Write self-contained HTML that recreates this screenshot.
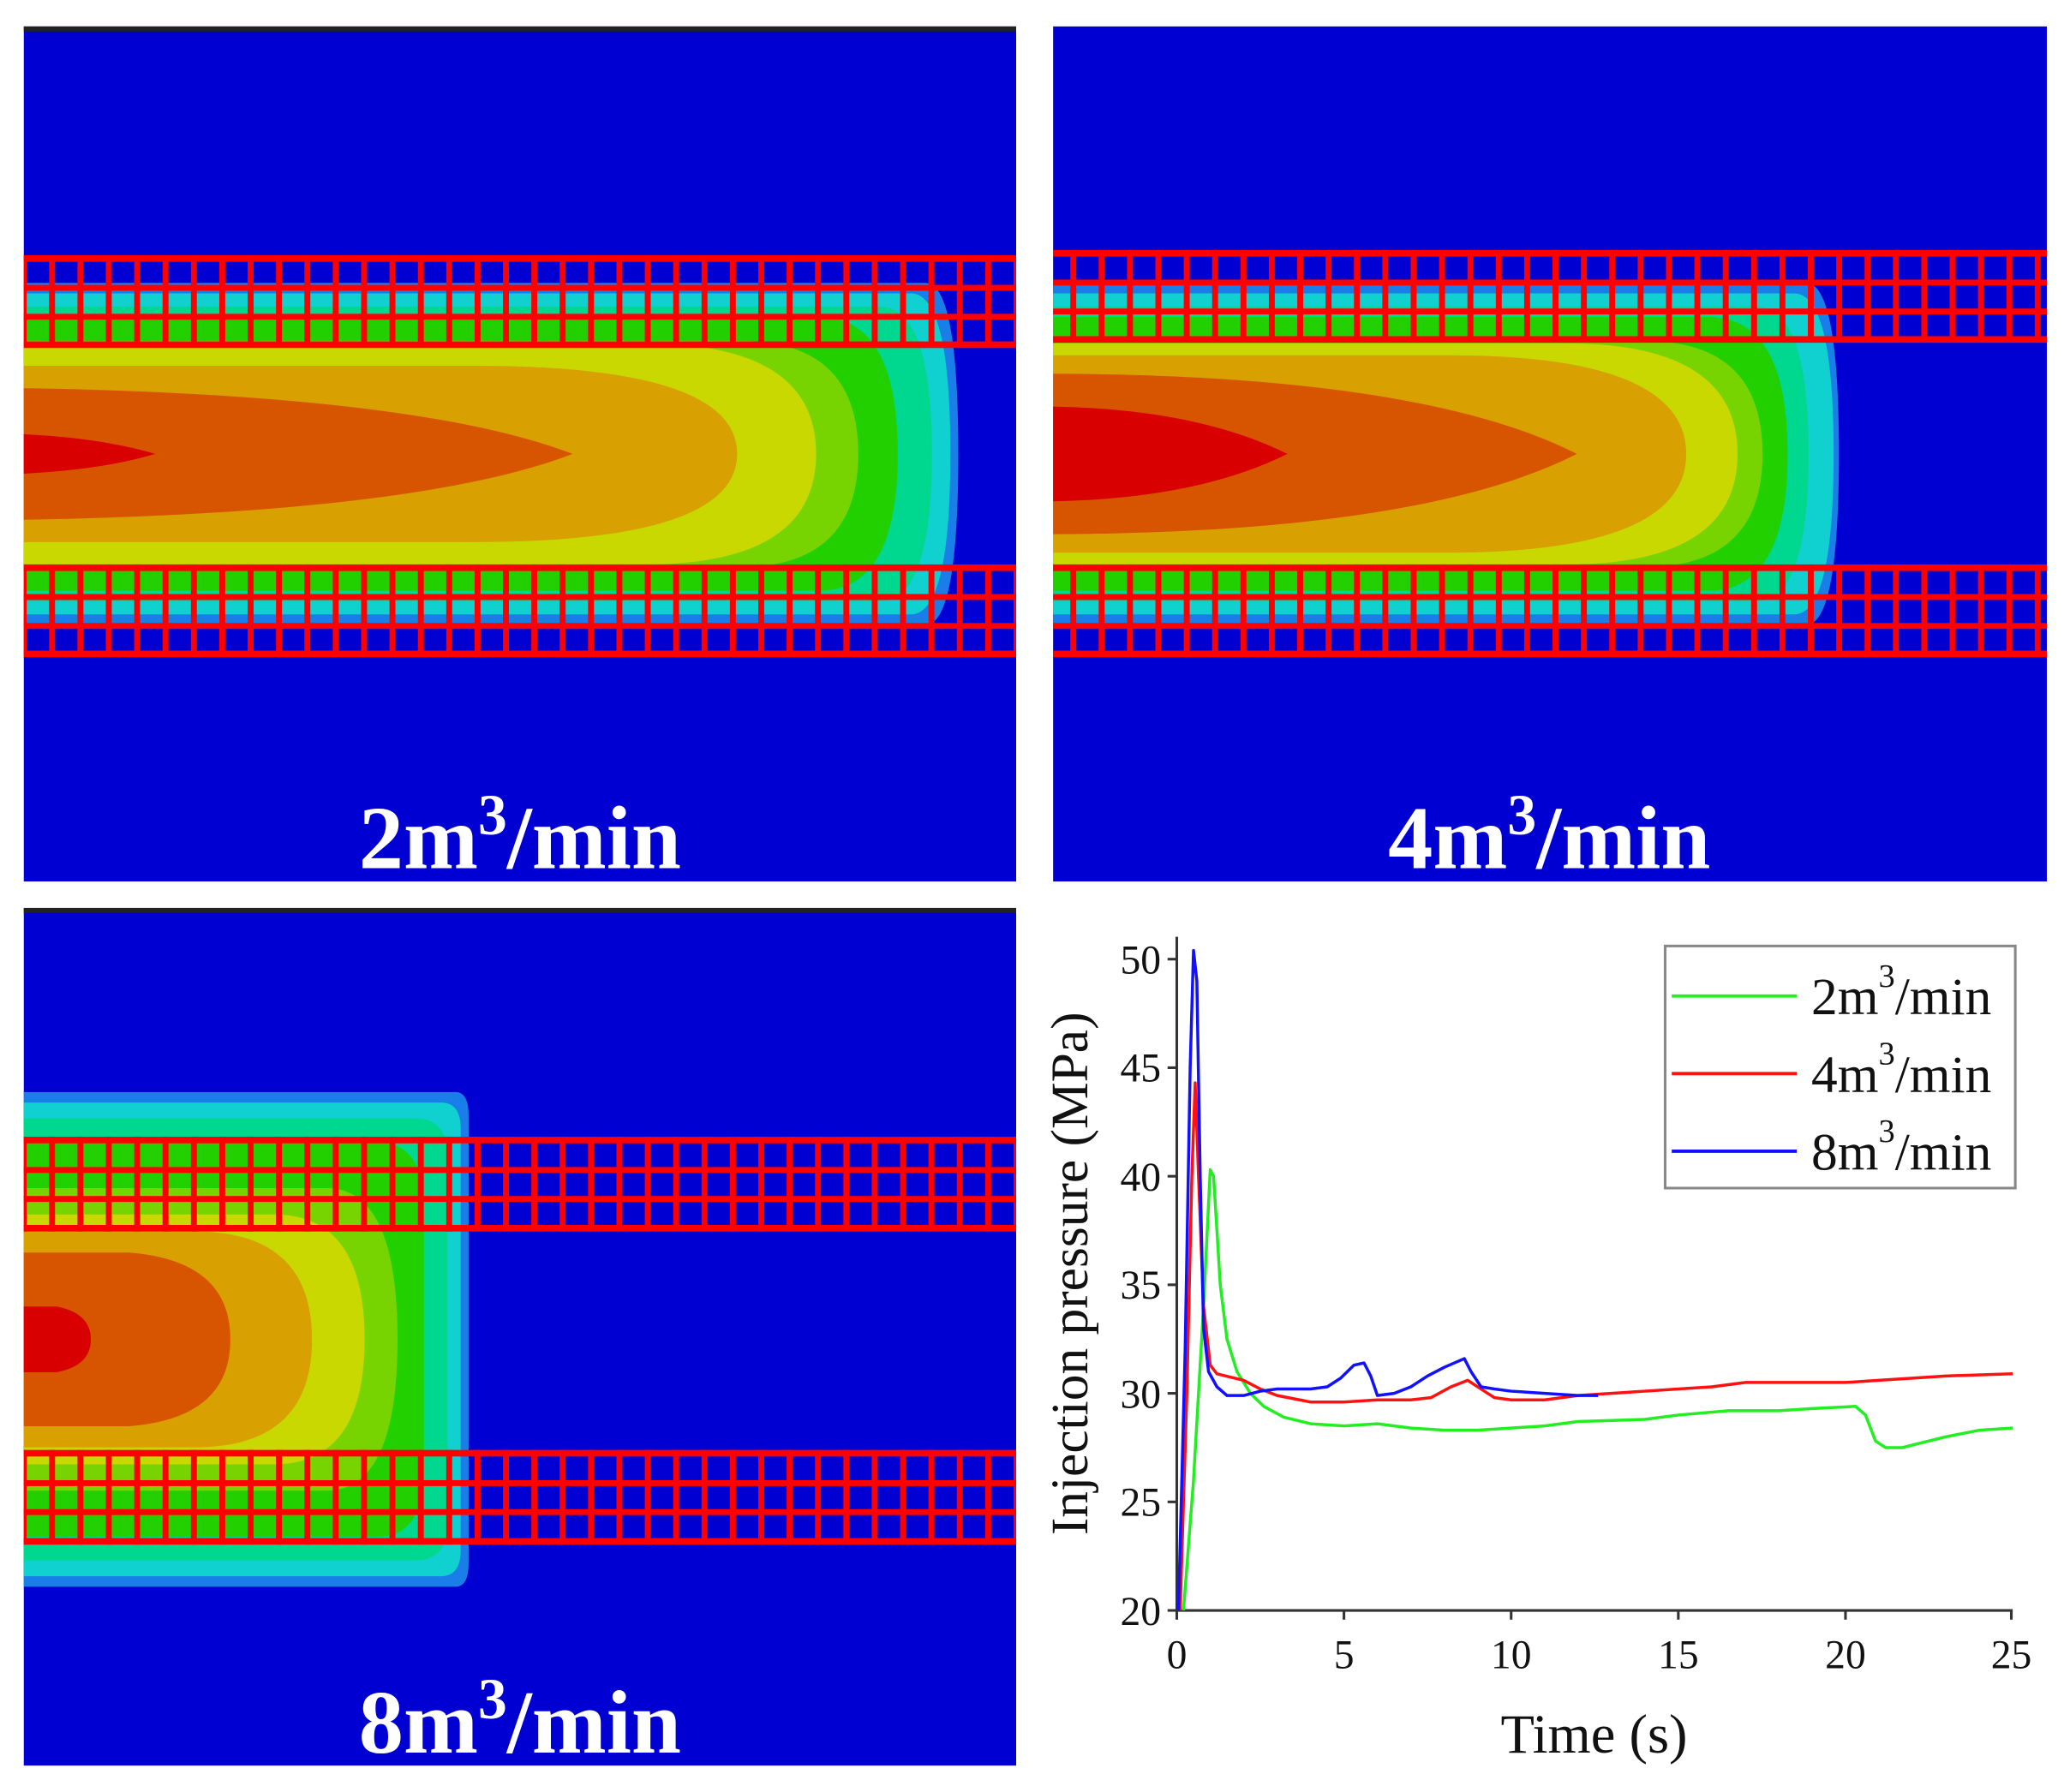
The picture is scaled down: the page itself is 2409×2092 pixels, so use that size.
<!DOCTYPE html>
<html><head><meta charset="utf-8"><style>
html,body{margin:0;padding:0;background:#fff;}
svg{display:block;}
text{font-family:"Liberation Serif",serif;}
</style></head><body>
<svg width="2409" height="2092" viewBox="0 0 1568 1362" preserveAspectRatio="none" xmlns="http://www.w3.org/2000/svg">
<defs>
<pattern id="vl" patternUnits="userSpaceOnUse" x="15.75" y="0" width="21.55" height="2000">
<rect x="0" y="0" width="4.5" height="2000" fill="#ff0000"/>
</pattern>
<clipPath id="c1"><rect x="18" y="20" width="754" height="650"/></clipPath>
<clipPath id="c2"><rect x="800" y="20" width="755" height="650"/></clipPath>
<clipPath id="c3"><rect x="18" y="690" width="754" height="652"/></clipPath>
</defs>

<!-- Panel 1 -->
<g clip-path="url(#c1)">
<rect x="18" y="20" width="754" height="650" fill="#0000d2"/>
<rect x="18" y="20" width="754" height="4" fill="#222"/>
<g transform="translate(18,345)">
<path d="M0,-130 H685 Q710,-130 710,0 Q710,130 685,130 H0Z" fill="#1a7ee8"/>
<path d="M0,-122 H674 Q704,-122 704,0 Q704,122 674,122 H0Z" fill="#10d0d0"/>
<path d="M0,-112 H650 Q690,-112 690,0 Q690,112 650,112 H0Z" fill="#00d890"/>
<path d="M0,-104 H604 Q664,-104 664,0 Q664,104 604,104 H0Z" fill="#22d000"/>
<path d="M0,-86 H544 Q634,-86 634,0 Q634,86 544,86 H0Z" fill="#78d400"/>
<path d="M0,-84 H472 Q602,-84 602,0 Q602,84 472,84 H0Z" fill="#c8d800"/>
<path d="M0,-67 H342 Q542,-67 542,0 Q542,67 342,67 H0Z" fill="#d8a000"/>
<path d="M0,-50 Q300,-45 417,0 Q300,45 0,50Z" fill="#d85500"/>
<path d="M0,-15 Q60,-12 100,0 Q60,12 0,15Z" fill="#d80000"/>
</g>
<rect x="18" y="194" width="754" height="70" fill="url(#vl)"/>
<rect x="18" y="429" width="754" height="70" fill="url(#vl)"/>
<g fill="#ff0000">
<rect x="18" y="194" width="754" height="5"/><rect x="18" y="216.5" width="754" height="4.5"/><rect x="18" y="238.5" width="754" height="4.5"/><rect x="18" y="259.5" width="754" height="5"/>
<rect x="18" y="429" width="754" height="5"/><rect x="18" y="451.5" width="754" height="4.5"/><rect x="18" y="473.5" width="754" height="4.5"/><rect x="18" y="494.5" width="754" height="5"/>
</g>
<text x="395" y="660" text-anchor="middle" font-size="68" font-weight="bold" fill="#fff">2m<tspan font-size="44" dy="-26">3</tspan><tspan dy="26">/min</tspan></text>
</g>

<!-- Panel 2 -->
<g clip-path="url(#c2)">
<rect x="800" y="20" width="755" height="650" fill="#0000d2"/>
<g transform="translate(800,345)">
<path d="M0,-130 H572 Q597,-130 597,0 Q597,130 572,130 H0Z" fill="#1a7ee8"/>
<path d="M0,-122 H563 Q593,-122 593,0 Q593,122 563,122 H0Z" fill="#10d0d0"/>
<path d="M0,-112 H534 Q574,-112 574,0 Q574,112 534,112 H0Z" fill="#00d890"/>
<path d="M0,-104 H498 Q558,-104 558,0 Q558,104 498,104 H0Z" fill="#22d000"/>
<path d="M0,-86 H449 Q539,-86 539,0 Q539,86 449,86 H0Z" fill="#78d400"/>
<path d="M0,-84 H390 Q520,-84 520,0 Q520,84 390,84 H0Z" fill="#c8d800"/>
<path d="M0,-75 H300 Q481,-75 481,0 Q481,75 300,75 H0Z" fill="#d8a000"/>
<path d="M0,-61 Q280,-60 398,0 Q280,60 0,61Z" fill="#d85500"/>
<path d="M0,-36 Q110,-34 178,0 Q110,34 0,36Z" fill="#d80000"/>
</g>
<rect x="800" y="190" width="755" height="70" fill="url(#vl)"/>
<rect x="800" y="429" width="755" height="70" fill="url(#vl)"/>
<g fill="#ff0000">
<rect x="800" y="190" width="755" height="5"/><rect x="800" y="212.5" width="755" height="4.5"/><rect x="800" y="234.5" width="755" height="4.5"/><rect x="800" y="255.5" width="755" height="5"/>
<rect x="800" y="429" width="755" height="5"/><rect x="800" y="451.5" width="755" height="4.5"/><rect x="800" y="473.5" width="755" height="4.5"/><rect x="800" y="494.5" width="755" height="5"/>
</g>
<text x="1177" y="660" text-anchor="middle" font-size="68" font-weight="bold" fill="#fff">4m<tspan font-size="44" dy="-26">3</tspan><tspan dy="26">/min</tspan></text>
</g>

<!-- Panel 3 -->
<g clip-path="url(#c3)">
<rect x="18" y="690" width="754" height="652" fill="#0000d2"/>
<rect x="18" y="690" width="754" height="4" fill="#222"/>
<g transform="translate(18,1018)">
<path d="M0,-188 H328 Q338,-188 338,-170 V170 Q338,188 328,188 H0Z" fill="#1a7ee8"/>
<path d="M0,-180 H317 Q332,-180 332,-160 V160 Q332,180 317,180 H0Z" fill="#10d0d0"/>
<path d="M0,-168 H297 Q322,-168 322,-140 V140 Q322,168 297,168 H0Z" fill="#00d890"/>
<path d="M0,-150 H268 Q304,-150 304,-100 V100 Q304,150 268,150 H0Z" fill="#22d000"/>
<path d="M0,-115 H230 Q284,-115 284,0 Q284,115 230,115 H0Z" fill="#78d400"/>
<path d="M0,-95 H190 Q259,-95 259,0 Q259,95 190,95 H0Z" fill="#c8d800"/>
<path d="M0,-82 H130 Q219,-82 219,0 Q219,82 130,82 H0Z" fill="#d8a000"/>
<path d="M0,-66 H80 Q157,-60 157,0 Q157,60 80,66 H0Z" fill="#d85500"/>
<path d="M0,-25 H25 Q51,-20 51,0 Q51,20 25,25 H0Z" fill="#d80000"/>
</g>
<rect x="18" y="864" width="754" height="72" fill="url(#vl)"/>
<rect x="18" y="1102" width="754" height="72" fill="url(#vl)"/>
<g fill="#ff0000">
<rect x="18" y="864" width="754" height="5"/><rect x="18" y="887" width="754" height="4.5"/><rect x="18" y="909" width="754" height="4.5"/><rect x="18" y="931" width="754" height="5"/>
<rect x="18" y="1102" width="754" height="5"/><rect x="18" y="1125" width="754" height="4.5"/><rect x="18" y="1147" width="754" height="4.5"/><rect x="18" y="1169" width="754" height="5"/>
</g>
<text x="395" y="1332" text-anchor="middle" font-size="68" font-weight="bold" fill="#fff">8m<tspan font-size="44" dy="-26">3</tspan><tspan dy="26">/min</tspan></text>
</g>

<!-- Chart -->
<g stroke="#333" stroke-width="2" fill="none">
<line x1="894" y1="712" x2="894" y2="1225"/>
<line x1="893" y1="1224" x2="1529" y2="1224"/>
<line x1="887" y1="1224" x2="894" y2="1224"/><line x1="887" y1="1141.5" x2="894" y2="1141.5"/><line x1="887" y1="1059" x2="894" y2="1059"/><line x1="887" y1="976.5" x2="894" y2="976.5"/><line x1="887" y1="894" x2="894" y2="894"/><line x1="887" y1="811.5" x2="894" y2="811.5"/><line x1="887" y1="729" x2="894" y2="729"/>
<line x1="894" y1="1224" x2="894" y2="1231"/><line x1="1021" y1="1224" x2="1021" y2="1231"/><line x1="1148" y1="1224" x2="1148" y2="1231"/><line x1="1275" y1="1224" x2="1275" y2="1231"/><line x1="1402" y1="1224" x2="1402" y2="1231"/><line x1="1528" y1="1224" x2="1528" y2="1231"/>
</g>
<g font-size="31" fill="#111" text-anchor="end">
<text x="882" y="1235">20</text><text x="882" y="1152">25</text><text x="882" y="1070">30</text><text x="882" y="987">35</text><text x="882" y="905">40</text><text x="882" y="822">45</text><text x="882" y="740">50</text>
</g>
<g font-size="31" fill="#111" text-anchor="middle">
<text x="894" y="1268">0</text><text x="1021" y="1268">5</text><text x="1148" y="1268">10</text><text x="1275" y="1268">15</text><text x="1402" y="1268">20</text><text x="1528" y="1268">25</text>
</g>
<text x="1211" y="1332" font-size="42" fill="#111" text-anchor="middle">Time (s)</text>
<text transform="translate(826,968) rotate(-90)" font-size="40" fill="#111" text-anchor="middle">Injection pressure (MPa)</text>

<g transform="translate(894,1224) scale(25.4,-16.5) translate(0,-20)" fill="none" stroke-width="3.5" stroke-linejoin="round">
<polyline vector-effect="non-scaling-stroke" stroke="#22ee22" points="0.2,20 0.5,26 0.8,34 1.0,40.3 1.1,40 1.3,35 1.5,32.5 1.8,31 2.2,30 2.6,29.4 3.2,28.9 4,28.6 5,28.5 6,28.6 7,28.4 8,28.3 9,28.3 10,28.4 11,28.5 12,28.7 14,28.8 15,29 16.5,29.2 18,29.2 19,29.3 20.3,29.4 20.6,29 20.9,27.8 21.2,27.5 21.7,27.5 23,28 24,28.3 25,28.4"/>
<polyline vector-effect="non-scaling-stroke" stroke="#ff1111" points="0.1,20 0.3,30 0.45,40 0.55,44.3 0.65,40 0.8,34 1.0,31.3 1.2,30.9 2,30.6 2.5,30.2 3,29.9 4,29.6 5,29.6 6,29.7 7,29.7 7.6,29.8 8.2,30.3 8.7,30.6 9.1,30.2 9.5,29.8 10,29.7 11,29.7 12,29.9 13,30 14,30.1 15,30.2 16,30.3 17,30.5 18,30.5 20,30.5 21,30.6 22,30.7 23,30.8 25,30.9"/>
<polyline vector-effect="non-scaling-stroke" stroke="#1111ff" points="0.05,20 0.25,32 0.4,45 0.5,50.4 0.6,49 0.7,40 0.8,33 0.95,31 1.2,30.3 1.5,29.9 2,29.9 2.5,30.1 3,30.2 4,30.2 4.5,30.3 4.9,30.7 5.3,31.3 5.6,31.4 5.8,30.8 6.0,29.9 6.5,30 7,30.3 7.5,30.8 8,31.2 8.6,31.6 8.8,31 9.1,30.3 9.5,30.2 10,30.1 11,30 12,29.9 12.6,29.9"/>
</g>

<rect x="1265" y="719" width="266" height="184" fill="none" stroke="#888" stroke-width="2"/>
<line x1="1270" y1="757" x2="1365" y2="757" stroke="#22ee22" stroke-width="2.5"/>
<line x1="1270" y1="816" x2="1365" y2="816" stroke="#ff1111" stroke-width="2.5"/>
<line x1="1270" y1="875" x2="1365" y2="875" stroke="#1111ff" stroke-width="2.5"/>
<g font-size="40" fill="#111">
<text x="1376" y="771">2m<tspan font-size="25" dy="-21">3</tspan><tspan dy="21">/min</tspan></text>
<text x="1376" y="830">4m<tspan font-size="25" dy="-21">3</tspan><tspan dy="21">/min</tspan></text>
<text x="1376" y="889">8m<tspan font-size="25" dy="-21">3</tspan><tspan dy="21">/min</tspan></text>
</g>
</svg>
</body></html>
